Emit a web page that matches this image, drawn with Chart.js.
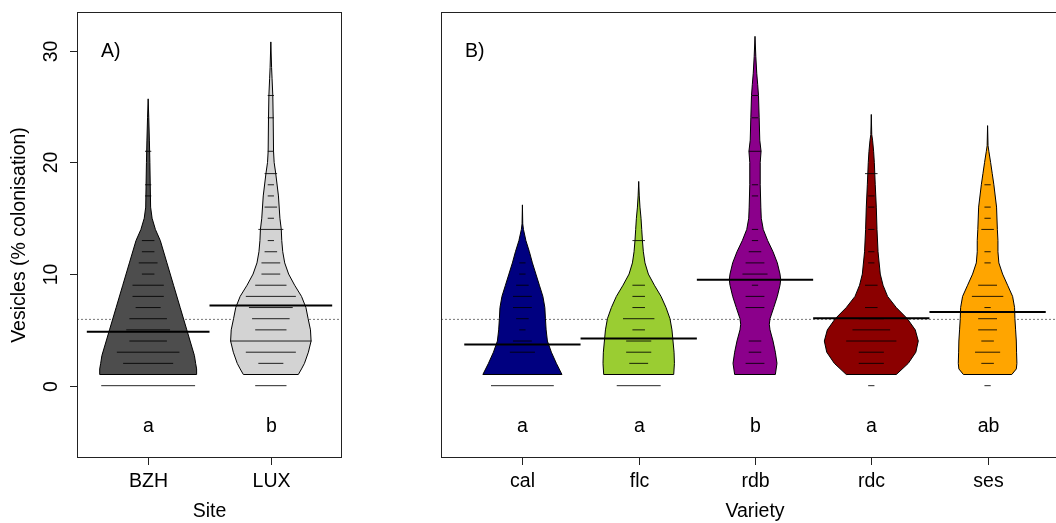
<!DOCTYPE html>
<html>
<head>
<meta charset="utf-8">
<script src="https://cdn.jsdelivr.net/npm/chart.js@4.4.1/dist/chart.umd.min.js"></script>
<style>
  html, body { margin: 0; padding: 0; background: #fff; overflow: hidden; }
  #wrap { position: relative; width: 1056px; height: 523px; overflow: hidden; }
  canvas { position: absolute; top: 0; }
  #site { left: 0; }
  #variety { left: 440px; }
</style>
</head>
<body>
<div id="wrap">
  <canvas id="site" width="440" height="523"></canvas>
  <canvas id="variety" width="640" height="523"></canvas>
</div>
<script>
;(function () {
  'use strict'

  // shared
  const yTicks = [0, 10, 20, 30]
  const overallMean = 5.94
  const letterLevel = -3.65

  // panel A: site
  const siteNames   = ['BZH', 'LUX']
  const siteLetters = ['a', 'b']
  const siteMeans   = [4.83, 7.19]
  const siteColors  = ['#4d4d4d', '#d3d3d3']

  // bean outlines: level (% colonisation) and half-width of the density
  const bzhLevels  = [1, 1.5, 2, 2.7, 5, 7, 9, 11, 13, 14, 15, 16, 18, 20, 22, 24, 25.7]
  const bzhDensity = [0.395, 0.395, 0.387, 0.377, 0.315, 0.261, 0.207, 0.153, 0.099, 0.059, 0.032, 0.02, 0.017, 0.014, 0.01, 0.005, 0]
  const luxLevels  = [1, 1.5, 2, 3, 4, 5, 6, 7, 8, 9, 10, 11, 12, 13, 14, 15, 17, 19, 20, 21, 24, 26, 27.5, 28.5, 30.8]
  const luxDensity = [0.224, 0.25, 0.274, 0.306, 0.328, 0.323, 0.304, 0.286, 0.25, 0.194, 0.145, 0.113, 0.097, 0.089, 0.085, 0.074, 0.062, 0.04, 0.027, 0.022, 0.019, 0.016, 0.01, 0.006, 0]

  // bean lines: observed values and how many times each occurs
  const bzhValues = [0, 2, 3, 4, 5, 6, 7, 8, 9, 10, 11, 12, 13, 17, 18, 21]
  const bzhCounts = [15, 8, 10, 6, 7, 6, 4, 5, 5, 2, 3, 2, 2, 1, 1, 1]
  const luxValues = [0, 2, 3, 4, 5, 6, 7, 8, 9, 10, 11, 12, 13, 14, 15, 16, 17, 18, 19, 21, 24, 26]
  const luxCounts = [5, 4, 8, 13, 5, 6, 7, 8, 5, 3, 3, 2, 1, 4, 1, 2, 1, 1, 2, 1, 1, 1]

  // panel B: variety
  const varietyNames   = ['cal', 'flc', 'rdb', 'rdc', 'ses']
  const varietyLetters = ['a', 'a', 'b', 'a', 'ab']
  const varietyMeans   = [3.69, 4.23, 9.49, 6.03, 6.59]
  const varietyColors  = ['#000080', '#9acd32', '#8b008b', '#8b0000', '#ffa500']

  const calLevels  = [1, 2, 3, 4, 5, 6, 7, 8, 9, 10, 11, 12, 13, 14, 14.5, 16.2]
  const calDensity = [0.34, 0.292, 0.249, 0.215, 0.204, 0.198, 0.193, 0.176, 0.146, 0.116, 0.086, 0.06, 0.03, 0.009, 0.003, 0]
  const flcLevels  = [1, 2, 3, 4, 5, 6, 7, 8, 9, 10, 11, 12, 13, 14, 15, 16, 17, 18.3]
  const flcDensity = [0.301, 0.307, 0.304, 0.295, 0.286, 0.269, 0.235, 0.192, 0.135, 0.083, 0.054, 0.04, 0.032, 0.026, 0.02, 0.011, 0.005, 0]
  const rdbLevels  = [1, 2, 3, 4, 5, 5.5, 6, 7, 8, 9, 9.5, 10, 11, 12, 13, 14, 15, 16, 18, 20, 21, 22, 24, 26, 27, 28, 29.5, 31.3]
  const rdbDensity = [0.175, 0.189, 0.175, 0.155, 0.129, 0.123, 0.129, 0.161, 0.192, 0.215, 0.221, 0.215, 0.192, 0.155, 0.109, 0.071, 0.054, 0.05, 0.045, 0.045, 0.052, 0.041, 0.036, 0.03, 0.023, 0.015, 0.007, 0]
  const rdcLevels  = [1, 2, 3, 4, 5, 6, 7, 8, 9, 10, 12, 14, 16, 18, 20, 21, 22, 22.5, 24.3]
  const rdcDensity = [0.215, 0.318, 0.383, 0.404, 0.378, 0.31, 0.215, 0.14, 0.101, 0.077, 0.058, 0.049, 0.043, 0.034, 0.026, 0.02, 0.011, 0.004, 0]
  const sesLevels  = [1, 1.5, 2, 3, 4, 5, 6, 7, 8, 9, 10, 11, 12, 13, 14, 16, 18, 19, 20, 21, 21.5, 23.3]
  const sesDensity = [0.208, 0.247, 0.252, 0.249, 0.247, 0.241, 0.235, 0.232, 0.215, 0.172, 0.129, 0.097, 0.089, 0.089, 0.084, 0.077, 0.054, 0.04, 0.026, 0.011, 0.004, 0]

  const calValues = [0, 3, 4, 5, 6, 7, 8, 9, 10, 11]
  const calCounts = [10, 4, 3, 1, 2, 3, 3, 2, 1, 1]
  const flcValues = [0, 2, 3, 4, 5, 6, 7, 8, 9, 13]
  const flcCounts = [7, 3, 4, 4, 2, 5, 2, 2, 2, 2]
  const rdbValues = [2, 3, 4, 7, 8, 9, 10, 11, 12, 13, 14, 17, 18, 21, 24, 26]
  const rdbCounts = [3, 2, 2, 3, 3, 1, 4, 3, 2, 1, 1, 1, 1, 2, 1, 1]
  const rdcValues = [0, 2, 3, 4, 5, 6, 7, 9, 11, 12, 14, 16, 17, 19]
  const rdcCounts = [1, 4, 4, 8, 6, 4, 2, 2, 1, 1, 1, 1, 1, 2]
  const sesValues = [0, 2, 3, 4, 5, 6, 7, 8, 9, 11, 12, 14, 15, 16, 18]
  const sesCounts = [1, 2, 4, 2, 3, 3, 1, 5, 3, 1, 1, 2, 1, 1, 1]

  const FONT = '"Liberation Sans", Arial, sans-serif'

  function beanPolygon(c, levels, density) {
    const pts = levels.map((v, k) => ({ x: c - density[k], y: v }))
    for (let k = levels.length - 1; k >= 0; k--) pts.push({ x: c + density[k], y: levels[k] })
    pts.push(pts[0])
    return pts
  }

  function beanLines(c, values, counts, unit) {
    const pts = []
    values.forEach((v, k) => {
      const h = counts[k] * unit / 2
      pts.push({ x: c - h, y: v }, { x: c + h, y: v }, { x: null, y: null })
    })
    return pts
  }

  // fill each closed bean path, using the points the library placed
  const beanFill = {
    id: 'beanFill',
    beforeDatasetDraw(chart, args) {
      const ds = chart.data.datasets[args.index]
      if (!ds.fillColor) return
      const ctx = chart.ctx
      ctx.save()
      ctx.beginPath()
      args.meta.data.forEach((p, k) => k ? ctx.lineTo(p.x, p.y) : ctx.moveTo(p.x, p.y))
      ctx.closePath()
      ctx.fillStyle = ds.fillColor
      ctx.fill()
      ctx.restore()
    }
  }

  // R style frame, ticks and text
  const frame = {
    id: 'frame',
    afterDraw(chart, args, o) {
      const { ctx, chartArea: a, scales: { x, y } } = chart
      ctx.save()
      ctx.strokeStyle = '#222'
      ctx.lineWidth = 1
      ctx.strokeRect(a.left + 0.5, a.top + 0.5, a.right - a.left - 1, a.bottom - a.top - 1)
      ctx.fillStyle = '#000'
      ctx.font = '19.5px ' + FONT
      ctx.textAlign = 'center'
      ctx.textBaseline = 'middle'

      o.names.forEach((n, i) => {
        const px = Math.round(x.getPixelForValue(i + 1)) + 0.5
        ctx.beginPath(); ctx.moveTo(px, a.bottom); ctx.lineTo(px, a.bottom + 7); ctx.stroke()
        ctx.fillText(n, px, a.bottom + 24)
        ctx.fillText(o.letters[i], px, y.getPixelForValue(letterLevel))
      })
      ctx.fillText(o.xTitle, (a.left + a.right) / 2, a.bottom + 54)

      if (o.showY) {
        yTicks.forEach(t => {
          const py = Math.round(y.getPixelForValue(t)) + 0.5
          ctx.beginPath(); ctx.moveTo(a.left, py); ctx.lineTo(a.left - 7, py); ctx.stroke()
          ctx.save(); ctx.translate(a.left - 25, py); ctx.rotate(-Math.PI / 2)
          ctx.fillText(String(t), 0, 0); ctx.restore()
        })
        ctx.save(); ctx.translate(20, (a.top + a.bottom) / 2); ctx.rotate(-Math.PI / 2)
        ctx.fillText('Vesicles (% colonisation)', 0, 0); ctx.restore()
      }

      ctx.textAlign = 'left'
      ctx.fillText(o.tag, a.left + 24, a.top + 40)
      ctx.restore()
    }
  }

  function drawPanel(id, p) {
    const datasets = [{
      data: [{ x: p.xMin, y: overallMean }, { x: p.xMax, y: overallMean }],
      borderColor: '#777', borderWidth: 1, borderDash: [2, 2], order: 4
    }]
    p.beans.forEach((b, i) => {
      datasets.push({
        data: beanPolygon(i + 1, b.levels, b.density),
        borderColor: '#000', borderWidth: 1, fillColor: p.colors[i], order: 3
      })
      datasets.push({
        data: beanLines(i + 1, b.values, b.counts, p.lineUnit),
        borderColor: 'rgba(0,0,0,0.85)', borderWidth: 1, order: 2
      })
    })
    const meanPts = []
    p.means.forEach((m, i) => meanPts.push({ x: i + 0.5, y: m }, { x: i + 1.5, y: m }, { x: null, y: null }))
    datasets.push({ data: meanPts, borderColor: '#000', borderWidth: 2, order: 1 })

    datasets.forEach(d => {
      d.showLine = true; d.spanGaps = false; d.pointRadius = 0; d.tension = 0
      d.backgroundColor = 'transparent'
      // a solid "dash" keeps Chart.js off its fast path, which assumes x only grows
      if (!d.borderDash) d.borderDash = [1000, 0]
    })

    return new Chart(document.getElementById(id), {
      type: 'scatter',
      data: { datasets },
      options: {
        responsive: false, animation: false, devicePixelRatio: 1,
        layout: { padding: p.padding },
        plugins: {
          legend: { display: false }, tooltip: { enabled: false },
          frame: { names: p.names, letters: p.letters, xTitle: p.xTitle, tag: p.tag, showY: p.showY }
        },
        scales: {
          x: { type: 'linear', min: p.xMin, max: p.xMax, display: false },
          y: { type: 'linear', min: -6.48, max: 33.48, display: false }
        }
      },
      plugins: [beanFill, frame]
    })
  }

  drawPanel('site', {
    names: siteNames, letters: siteLetters, means: siteMeans, colors: siteColors,
    beans: [
      { levels: bzhLevels, density: bzhDensity, values: bzhValues, counts: bzhCounts },
      { levels: luxLevels, density: luxDensity, values: luxValues, counts: luxCounts }
    ],
    xMin: 0.42, xMax: 2.58, lineUnit: 0.051,
    padding: { left: 77, right: 98, top: 12, bottom: 65 },
    xTitle: 'Site', tag: 'A)', showY: true
  })

  drawPanel('variety', {
    names: varietyNames, letters: varietyLetters, means: varietyMeans, colors: varietyColors,
    beans: [
      { levels: calLevels, density: calDensity, values: calValues, counts: calCounts },
      { levels: flcLevels, density: flcDensity, values: flcValues, counts: flcCounts },
      { levels: rdbLevels, density: rdbDensity, values: rdbValues, counts: rdbCounts },
      { levels: rdcLevels, density: rdcDensity, values: rdcValues, counts: rdcCounts },
      { levels: sesLevels, density: sesDensity, values: sesValues, counts: sesCounts }
    ],
    xMin: 0.3, xMax: 5.7, lineUnit: 0.054,
    padding: { left: 1, right: 11, top: 12, bottom: 65 },
    xTitle: 'Variety', tag: 'B)', showY: false
  })
})()
</script>
</body>
</html>
